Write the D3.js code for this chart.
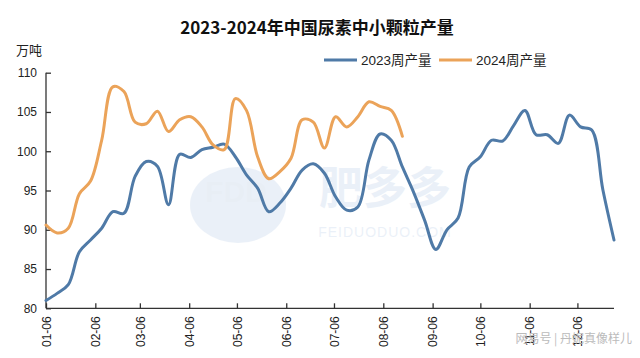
<!DOCTYPE html>
<html><head><meta charset="utf-8">
<script src="https://cdn.jsdelivr.net/npm/d3@7/dist/d3.min.js"></script>
<style>body{margin:0;background:#fff}svg{display:block}</style>
</head><body>
<svg id="c" width="640" height="358"></svg>
<script>
const weeks = ["2023-01-06","2023-01-13","2023-01-20","2023-01-27","2023-02-03","2023-02-10","2023-02-17","2023-02-24",
"2023-03-03","2023-03-10","2023-03-17","2023-03-24","2023-03-31","2023-04-07","2023-04-14","2023-04-21","2023-04-28",
"2023-05-05","2023-05-12","2023-05-19","2023-05-26","2023-06-02","2023-06-09","2023-06-16","2023-06-23","2023-06-30",
"2023-07-07","2023-07-14","2023-07-21","2023-07-28","2023-08-04","2023-08-11","2023-08-18","2023-08-25",
"2023-09-01","2023-09-08","2023-09-15","2023-09-22","2023-09-29","2023-10-06","2023-10-13","2023-10-20","2023-10-27",
"2023-11-03","2023-11-10","2023-11-17","2023-11-24","2023-12-01","2023-12-08","2023-12-15","2023-12-22","2023-12-29"];
const s2023 = [81.0,81.9,83.0,87.2,88.7,90.2,92.3,92.1,96.8,98.7,98.1,93.2,99.6,99.2,100.2,100.5,100.9,99.3,97.0,95.3,
92.3,93.4,95.3,97.6,98.4,97.2,94.2,92.5,92.9,98.9,102.2,101.4,98.0,94.8,91.2,87.5,90.0,91.5,98.0,99.3,101.4,101.3,
103.3,105.2,102.1,102.1,101.0,104.6,103.1,102.7,95.1,88.7];
const s2024 = [90.6,89.6,90.2,94.6,96.2,101.4,108.2,107.6,103.7,103.5,105.1,102.5,104.0,104.4,103.1,100.8,100.2,106.7,
105.2,99.3,96.5,97.4,99.1,104.0,103.7,100.4,104.4,103.1,104.4,106.3,105.7,105.2,101.9];
const xTicks = ["2023-01-06","2023-02-06","2023-03-06","2023-04-06","2023-05-06","2023-06-06","2023-07-06","2023-08-06",
"2023-09-06","2023-10-06","2023-11-06","2023-12-06"];
const yTicks = [80,85,90,95,100,105,110];
const seriesNames = ["2023周产量","2024周产量"];
const title = "2023-2024年中国尿素中小颗粒产量";
const unit = "万吨";

const parse = d3.utcParse("%Y-%m-%d");
const svg = d3.select("#c");
const fontLat = "'Liberation Sans', Arial, 'Noto Sans CJK SC', sans-serif";
const fontCJK = "'Noto Sans CJK SC', 'Liberation Sans', sans-serif";
const colors = ["#4f7aa7", "#eba359"];

const x = d3.scaleUtc().domain([parse(weeks[0]), parse(weeks[weeks.length-1])]).range([46, 614]);
const y = d3.scaleLinear().domain([80,110]).range([308.3, 72.7]);

// watermark
const wm = svg.append("g").attr("opacity", 0.1).attr("fill", "#3f78c0");
wm.append("ellipse").attr("cx", 238).attr("cy", 205).attr("rx", 48).attr("ry", 38);
wm.append("text").attr("x", 236).attr("y", 202).attr("text-anchor","middle").attr("font-family", fontLat)
  .attr("font-weight","bold").attr("font-size", 30).attr("fill","#2c5fa8").text("FDD");
wm.append("text").attr("x", 385).attr("y", 204).attr("text-anchor","middle").attr("font-family", fontCJK)
  .attr("font-weight","bold").attr("font-size", 44).text("肥多多");
wm.append("text").attr("x", 385).attr("y", 237).attr("text-anchor","middle").attr("font-family", fontLat)
  .attr("font-size", 14).attr("letter-spacing", 1).text("FEIDUODUO.COM");

// axes
const yAxis = svg.append("g").attr("transform","translate(46,0)")
  .call(d3.axisLeft(y).tickValues(yTicks).tickSize(-5).tickPadding(9).tickFormat(d3.format("d")));
const xAxis = svg.append("g").attr("transform","translate(0,308.3)")
  .call(d3.axisBottom(x).tickValues(xTicks.map(parse)).tickSize(-5).tickPadding(8).tickFormat(d3.utcFormat("%m-%d")));
[yAxis, xAxis].forEach(a => {
  a.select(".domain").attr("stroke","#333").attr("stroke-width",1.3);
  a.selectAll(".tick line").attr("stroke","#333").attr("stroke-width",1.3);
  a.selectAll("text").attr("font-family", fontLat).attr("font-size", 12).attr("fill","#222");
});
yAxis.select(".domain").attr("d", "M0,308.3V72.7");
xAxis.select(".domain").attr("d", "M46,0H614");
xAxis.selectAll(".tick text").attr("transform","rotate(-90)").attr("text-anchor","end")
  .attr("x", -8).attr("y", 0).attr("dy","0.35em");

// lines
const line = d3.line().x((d,i) => x(parse(weeks[i]))).y(d => y(d)).curve(d3.curveCatmullRom.alpha(0.5));
[s2023, s2024].forEach((s, k) => {
  svg.append("path").datum(s).attr("d", line).attr("fill","none")
    .attr("stroke", colors[k]).attr("stroke-width", 3).attr("stroke-linejoin","round").attr("stroke-linecap","round");
});

// title & unit
svg.append("text").attr("x", 317).attr("y", 34).attr("text-anchor","middle").attr("font-family", fontCJK)
  .attr("font-weight","bold").attr("font-size", 17).attr("fill","#111").text(title);
svg.append("text").attr("x", 16).attr("y", 55).attr("font-family", fontCJK).attr("font-size", 13).attr("fill","#222").text(unit);

// legend
const lg = svg.append("g");
const legX = [324, 439];
seriesNames.forEach((n, k) => {
  lg.append("line").attr("x1", legX[k]).attr("x2", legX[k]+33).attr("y1", 60).attr("y2", 60)
    .attr("stroke", colors[k]).attr("stroke-width", 3);
  lg.append("text").attr("x", legX[k]+37).attr("y", 65).attr("font-family", fontLat).attr("font-size", 13.5)
    .attr("fill","#222").text(n);
});

// source credit
svg.append("text").attr("x", 632).attr("y", 343).attr("text-anchor","end").attr("font-family", fontCJK)
  .attr("font-size", 12).attr("fill","#bbb").text("网易号 | 丹妮真像样儿");
</script>
</body></html>
